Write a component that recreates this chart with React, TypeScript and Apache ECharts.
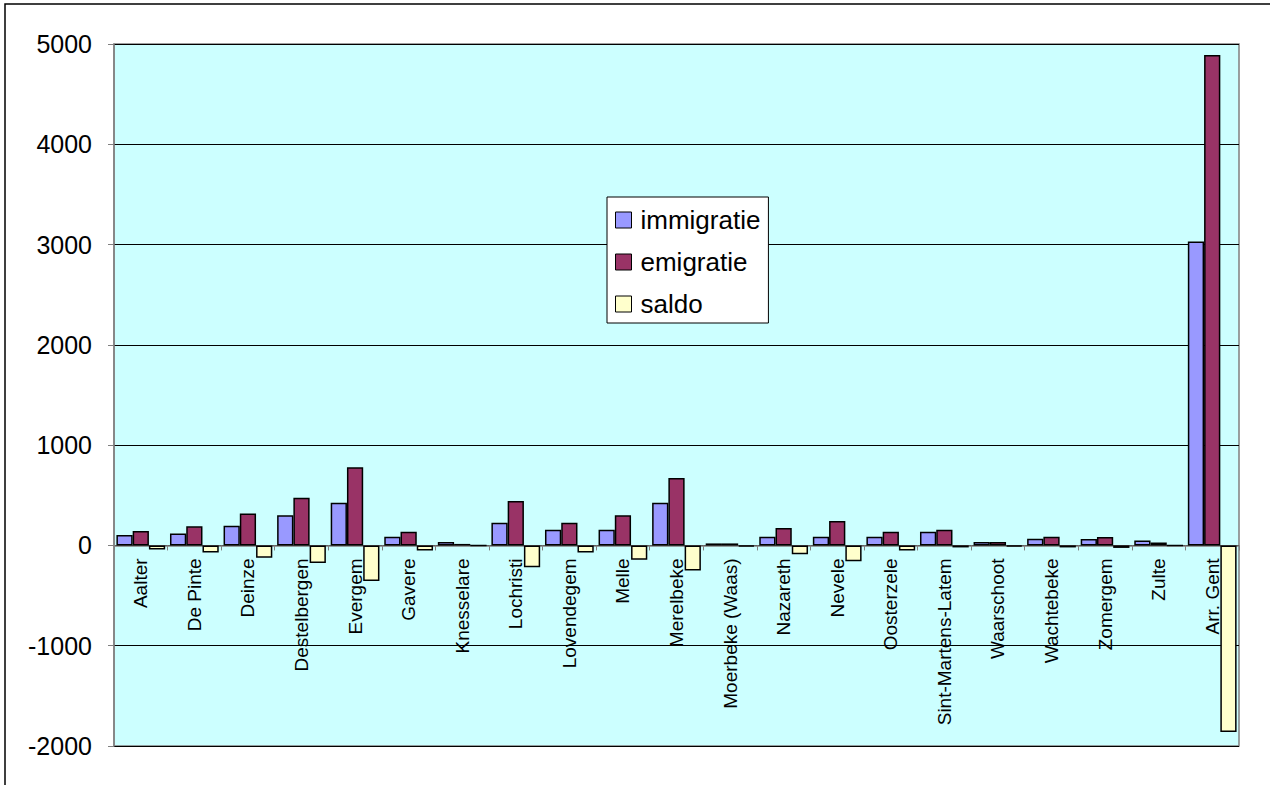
import React, { useEffect, useRef } from "react";
import * as echarts from "echarts";

const categories = [
  "Aalter", "De Pinte", "Deinze", "Destelbergen", "Evergem", "Gavere", "Knesselare",
  "Lochristi", "Lovendegem", "Melle", "Merelbeke", "Moerbeke (Waas)", "Nazareth", "Nevele",
  "Oosterzele", "Sint-Martens-Latem", "Waarschoot", "Wachtebeke", "Zomergem", "Zulte", "Arr. Gent",
];
const immigratie = [105, 120, 195, 300, 425, 86, 35, 226, 156, 156, 425, 20, 86, 86, 86, 136, 35, 66, 63, 50, 3030];
const emigratie = [145, 190, 318, 476, 780, 136, 15, 443, 226, 300, 673, 20, 173, 243, 136, 156, 33, 86, 83, 30, 4890];
const saldo = [-40, -70, -123, -176, -355, -50, 0, -217, -70, -144, -250, -10, -87, -157, -50, -20, -10, -20, -25, 0, -1860];
const yTicks = { min: -2000, max: 5000, interval: 1000 };

const FONT = "Liberation Sans, Arial, sans-serif";

const GRID_TOP = 44;
const GRID_BOTTOM = 39;
const HEIGHT = 785;

export default function App() {
  const ref = useRef<HTMLDivElement>(null);
  useEffect(() => {
    if (!ref.current) return;
    const chart = echarts.init(ref.current, null, { renderer: "svg" });
    const barStyle = (color: string) => ({
      color,
      borderColor: "#000000",
      borderWidth: 1.5,
    });
    const gridH = HEIGHT - GRID_TOP - GRID_BOTTOM;
    const zeroOffset = (gridH * (0 - yTicks.min)) / (yTicks.max - yTicks.min);
    chart.setOption({
      animation: false,
      backgroundColor: "#ffffff",
      textStyle: { fontFamily: FONT },
      graphic: [
        {
          type: "rect",
          shape: { x: 5, y: 4, width: 1300, height: 900 },
          style: { fill: "none", stroke: "#000000", lineWidth: 1.5 },
          silent: true,
          z: -10,
        },
      ],
      grid: {
        left: 114,
        top: GRID_TOP,
        right: 31,
        bottom: GRID_BOTTOM,
        containLabel: false,
        outerBoundsMode: "none",
        show: true,
        backgroundColor: "#CCFFFF",
        borderColor: "#808080",
        borderWidth: 1.5,
      },
      legend: {
        orient: "vertical",
        left: 607,
        top: 197,
        width: 160,
        padding: [10, 8, 6, 8],
        itemWidth: 16,
        itemHeight: 16,
        itemGap: 16,
        backgroundColor: "#ffffff",
        borderColor: "#000000",
        borderWidth: 1,
        icon: "rect",
        itemStyle: { borderColor: "#000000", borderWidth: 1 },
        textStyle: { fontSize: 26, color: "#000000", fontFamily: FONT, lineHeight: 25, padding: [0, 0, 0, 4] },
        data: ["immigratie", "emigratie", "saldo"],
      },
      xAxis: {
        type: "category",
        data: categories,
        offset: -zeroOffset,
        axisLine: { onZero: false, lineStyle: { color: "#808080", width: 1.5 } },
        axisTick: { show: true, alignWithLabel: false, length: 5, lineStyle: { color: "#808080" } },
        axisLabel: {
          interval: 0,
          rotate: 90,
          margin: 13,
          fontSize: 19,
          color: "#000000",
          fontFamily: FONT,
          hideOverlap: false,
        },
        splitLine: { show: false },
        z: 1,
      },
      yAxis: {
        type: "value",
        min: yTicks.min,
        max: yTicks.max,
        interval: yTicks.interval,
        axisLine: { show: true, lineStyle: { color: "#808080", width: 1.5 } },
        axisTick: { show: true, length: 6, lineStyle: { color: "#808080" } },
        axisLabel: {
          fontSize: 25,
          color: "#000000",
          margin: 22,
          fontFamily: FONT,
          formatter: (v: number) => String(v),
        },
        splitLine: { show: true, lineStyle: { color: "#000000", width: 1 } },
      },
      series: [
        {
          name: "immigratie",
          type: "bar",
          data: immigratie,
          barGap: "0%",
          barCategoryGap: "9%",
          itemStyle: barStyle("#9999FF"),
        },
        {
          name: "emigratie",
          type: "bar",
          data: emigratie,
          barGap: "0%",
          barCategoryGap: "9%",
          itemStyle: barStyle("#993366"),
        },
        {
          name: "saldo",
          type: "bar",
          data: saldo,
          barGap: "0%",
          barCategoryGap: "9%",
          itemStyle: barStyle("#FFFFCC"),
        },
      ],
    });
    return () => chart.dispose();
  }, []);
  return (
    <div
      ref={ref}
      style={{ position: "fixed", left: 0, top: 0, width: 1270, height: HEIGHT }}
    />
  );
}
